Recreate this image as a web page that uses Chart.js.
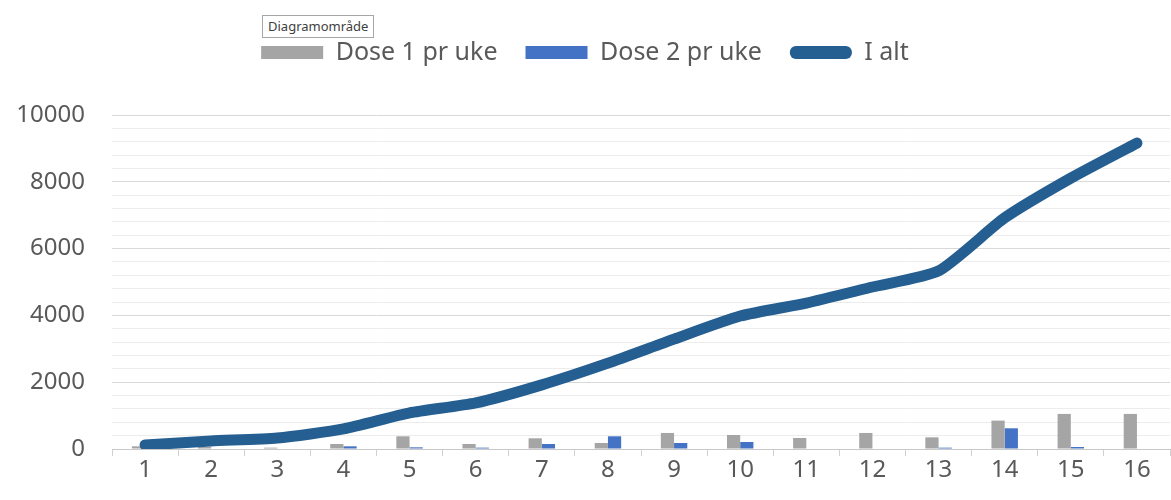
<!DOCTYPE html>
<html>
<head>
<meta charset="utf-8">
<script src="https://cdn.jsdelivr.net/npm/chart.js@4/dist/chart.umd.min.js"></script>
<style>
  html, body { margin: 0; padding: 0; background: #fff; }
  #wrap { position: relative; width: 1171px; height: 500px; }
  #tip {
    position: absolute; left: 262px; top: 15px;
    padding: 3px 5px; border: 1px solid #a6a6a6; background: #fff;
    font: 13px "Noto Sans", sans-serif; color: #404040; line-height: 15px;
  }
</style>
</head>
<body>
<div id="wrap">
  <canvas id="vaksine" width="1171" height="500"></canvas>
  <div id="tip">Diagramområde</div>
</div>
<script>
const weeks = ['1', '2', '3', '4', '5', '6', '7', '8', '9', '10', '11', '12', '13', '14', '15', '16'];
const dose1 = [80, 60, 40, 150, 380, 150, 320, 180, 480, 420, 330, 480, 350, 850, 1050, 1050];
const dose2 = [20, 0, 0, 80, 50, 40, 150, 380, 180, 210, 0, 0, 40, 620, 60, 0];
const total = [120, 240, 330, 600, 1080, 1380, 1920, 2570, 3290, 3980, 4370, 4850, 5330, 6920, 8110, 9160];

const textColor = '#595959';
const fontFamily = '"Noto Sans", sans-serif';

const ctx = document.getElementById('vaksine').getContext('2d');
const vaksineChart = new Chart(ctx, {
  type: 'bar',
  data: {
    labels: weeks,
    datasets: [{
      label: 'Dose 1 pr uke',
      data: dose1,
      backgroundColor: '#a5a5a5',
      order: 1
    }, {
      label: 'Dose 2 pr uke',
      data: dose2,
      backgroundColor: '#4472c4',
      order: 1
    }, {
      type: 'line',
      label: 'I alt',
      data: total,
      borderColor: '#255e91',
      backgroundColor: '#255e91',
      borderWidth: 11,
      borderCapStyle: 'round',
      borderJoinStyle: 'round',
      tension: 0.2,
      pointRadius: 0,
      order: 0
    }]
  },
  options: {
    responsive: false,
    animation: false,
    layout: { padding: { top: 12, right: 1, left: 0, bottom: 0 } },
    datasets: {
      bar: { barPercentage: 1, categoryPercentage: 0.4 }
    },
    plugins: {
      tooltip: { enabled: false },
      title: {
        display: true,
        text: ' ',
        font: { size: 10 },
        padding: { top: 10, bottom: 18 }
      },
      legend: {
        position: 'top',
        weight: 3000,
        labels: {
          boxWidth: 62,
          boxHeight: 13,
          padding: 28,
          color: textColor,
          font: { family: fontFamily, size: 25 },
          useBorderRadius: true,
          sort: (a, b) => a.datasetIndex - b.datasetIndex,
          generateLabels(chart) {
            const items = Chart.defaults.plugins.legend.labels.generateLabels(chart);
            items.forEach(it => {
              it.lineWidth = 0;
              it.borderRadius = it.text === 'I alt' ? 6 : 0;
            });
            return items;
          }
        }
      }
    },
    scales: {
      x: {
        afterFit(scale) { scale.height = 51; },
        grid: {
          offset: true,
          drawOnChartArea: false,
          drawTicks: true,
          tickLength: 7,
          color: '#d0d0d0'
        },
        border: { color: '#c8c8c8', width: 1 },
        ticks: {
          color: textColor,
          padding: 0,
          font: { family: fontFamily, size: 24 }
        }
      },
      y: {
        min: 0,
        max: 10000,
        afterFit(scale) { scale.width = 112; },
        border: { display: false },
        grid: {
          drawTicks: false,
          color: c => (c.tick.value % 2000 === 0 ? '#d9d9d9' : '#ececec')
        },
        ticks: {
          stepSize: 400,
          autoSkip: false,
          padding: 27,
          color: textColor,
          font: { family: fontFamily, size: 24 },
          callback: v => (v % 2000 === 0 ? v : '')
        }
      }
    }
  }
});
</script>
</body>
</html>
